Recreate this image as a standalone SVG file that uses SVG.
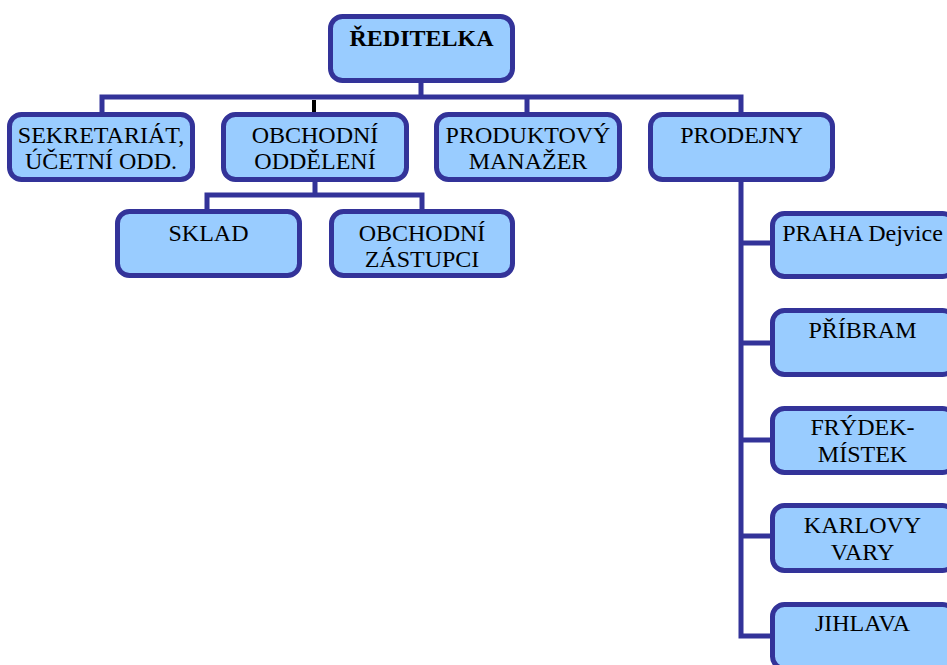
<svg xmlns="http://www.w3.org/2000/svg" width="947" height="665" viewBox="0 0 947 665">
<style>
.box{fill:#99CCFF;stroke:#333399;stroke-width:5}
.ln{fill:none;stroke:#333399;stroke-width:5;stroke-linecap:square;stroke-linejoin:miter}
text{font-family:"Liberation Serif","DejaVu Serif",serif;font-size:24px;fill:#000;text-anchor:middle}
.b{font-weight:bold}
</style>
<rect width="947" height="665" fill="#fff"/>
<g id="connectors">
<path class="ln" d="M421,83 V97 M102,97 H741 M102,97 V112 M527,97 V112 M741,97 V112"/>
<path d="M314,100 V112" stroke="#000" stroke-width="4" fill="none"/>
<path class="ln" d="M315,182 V195 M207,195 H422 M207,195 V209 M422,195 V209"/>
<path class="ln" d="M741,182 V636 M741,243 H770 M741,343 H770 M741,440 H770 M741,536 H770 M741,636 H770"/>
</g>
<g id="n-reditelka"><rect class="box" x="330.5" y="16.5" width="182" height="64" rx="12"/><text class="b" x="421.5" y="46">ŘEDITELKA</text></g>
<g id="n-sekretariat"><rect class="box" x="9.5" y="114.5" width="183" height="65" rx="12"/><text x="101" y="143">SEKRETARIÁT,</text><text x="101" y="169">ÚČETNÍ ODD.</text></g>
<g id="n-obchodni-oddeleni"><rect class="box" x="223.5" y="114.5" width="183" height="65" rx="12"/><text x="315" y="143">OBCHODNÍ</text><text x="315" y="169">ODDĚLENÍ</text></g>
<g id="n-produktovy"><rect class="box" x="436.5" y="114.5" width="183" height="65" rx="12"/><text x="528" y="143">PRODUKTOVÝ</text><text x="528" y="169">MANAŽER</text></g>
<g id="n-prodejny"><rect class="box" x="650.5" y="114.5" width="182" height="65" rx="12"/><text x="741.5" y="143">PRODEJNY</text></g>
<g id="n-sklad"><rect class="box" x="117.5" y="211.5" width="182" height="64" rx="12"/><text x="208.5" y="241">SKLAD</text></g>
<g id="n-zastupci"><rect class="box" x="331.5" y="211.5" width="181" height="64" rx="12"/><text x="422" y="241">OBCHODNÍ</text><text x="422" y="267">ZÁSTUPCI</text></g>
<g id="n-praha"><rect class="box" x="772.5" y="213.5" width="182" height="63" rx="12"/><text x="862.5" y="241">PRAHA Dejvice</text></g>
<g id="n-pribram"><rect class="box" x="772.5" y="310.5" width="182" height="64" rx="12"/><text x="862.5" y="338">PŘÍBRAM</text></g>
<g id="n-frydek"><rect class="box" x="772.5" y="408.5" width="182" height="64" rx="12"/><text x="862.5" y="435">FRÝDEK-</text><text x="862.5" y="462">MÍSTEK</text></g>
<g id="n-karlovy"><rect class="box" x="772.5" y="505.5" width="182" height="65" rx="12"/><text x="862.5" y="533">KARLOVY</text><text x="862.5" y="560">VARY</text></g>
<g id="n-jihlava"><rect class="box" x="772.5" y="604.5" width="182" height="64" rx="12"/><text x="862.5" y="631">JIHLAVA</text></g>
</svg>
